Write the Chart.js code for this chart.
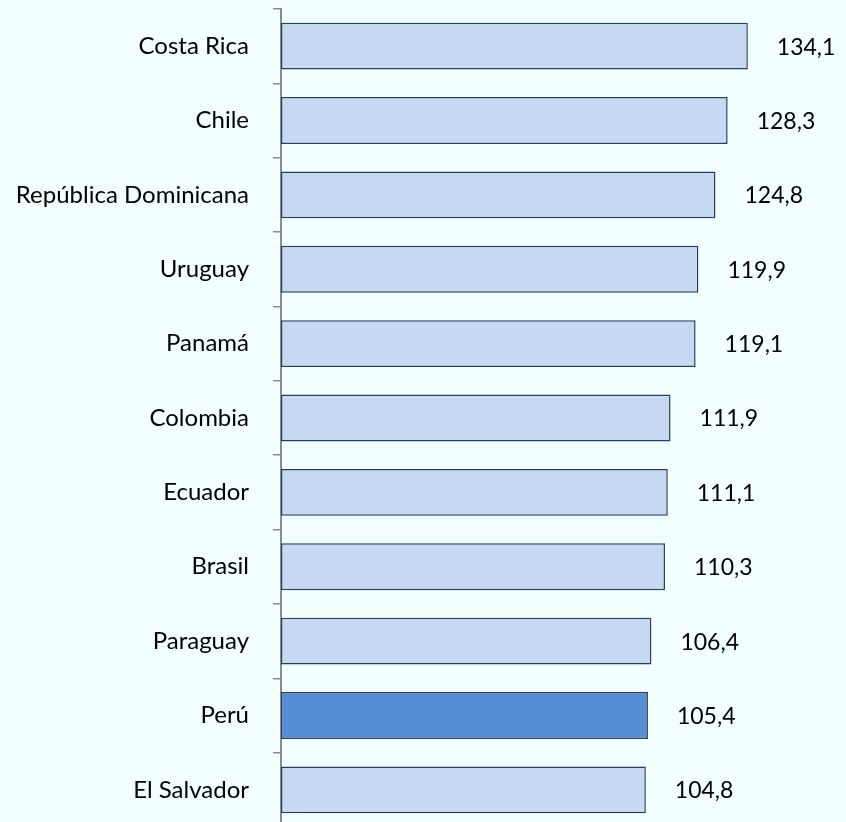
<!DOCTYPE html>
<html>
<head>
<meta charset="utf-8">
<script src="https://cdn.jsdelivr.net/npm/chart.js@4/dist/chart.umd.min.js"></script>
<style>
  html, body { margin: 0; padding: 0; background: #f3fefe; overflow: hidden; }
  #wrap { position: relative; width: 846px; height: 836px; }
</style>
</head>
<body>
<div id="wrap"><canvas id="myChart"></canvas></div>
<script>
var paises = ["Costa Rica", "Chile", "República Dominicana", "Uruguay", "Panamá",
  "Colombia", "Ecuador", "Brasil", "Paraguay", "Perú", "El Salvador"];
var valores = [134.1, 128.3, 124.8, 119.9, 119.1, 111.9, 111.1, 110.3, 106.4, 105.4, 104.8];
var destacado = "Perú";

var fuente = "Lato";

// colores de barra: Perú resaltado
var colores = paises.map(function (p) {
  return p === destacado ? "#558ed5" : "#c6d9f1";
});

// etiquetas de valor a la derecha de cada barra
var etiquetasValor = {
  id: "etiquetasValor",
  afterDatasetsDraw: function (chart) {
    var ctx = chart.ctx;
    var meta = chart.getDatasetMeta(0);
    ctx.save();
    ctx.font = "23px " + fuente;
    ctx.fillStyle = "#000000";
    ctx.textAlign = "left";
    ctx.textBaseline = "middle";
    meta.data.forEach(function (bar, i) {
      var txt = valores[i].toFixed(1).replace(".", ",");
      ctx.fillText(txt, bar.x + 29, bar.y + 1);
    });
    ctx.restore();
  },
};

new Chart("myChart", {
  type: "bar",
  data: {
    labels: paises,
    datasets: [
      {
        data: valores,
        backgroundColor: colores,
        borderColor: "#243f66",
        borderWidth: 1.5,
        borderSkipped: false,
        barPercentage: 0.63,
        categoryPercentage: 1,
      },
    ],
  },
  options: {
    indexAxis: "y",
    responsive: true,
    maintainAspectRatio: false,
    animation: false,
    layout: { padding: { top: 9, bottom: 9, left: 0, right: 0 } },
    plugins: {
      legend: { display: false },
      tooltip: { enabled: false },
    },
    scales: {
      x: {
        display: false,
        min: 0,
        max: 162.3,
      },
      y: {
        grid: {
          offset: true,
          drawOnChartArea: false,
          drawTicks: true,
          tickLength: 8,
          color: "#8c8c8c",
          lineWidth: 1.5,
        },
        border: { display: true, color: "#8c8c8c", width: 2 },
        ticks: {
          color: "#000000",
          padding: 24,
          font: { family: fuente, size: 24 },
        },
        afterFit: function (scale) {
          scale.width = 281;
          scale.paddingTop = 0;
          scale.paddingBottom = 0;
        },
      },
    },
  },
  plugins: [etiquetasValor],
});
</script>
</body>
</html>
